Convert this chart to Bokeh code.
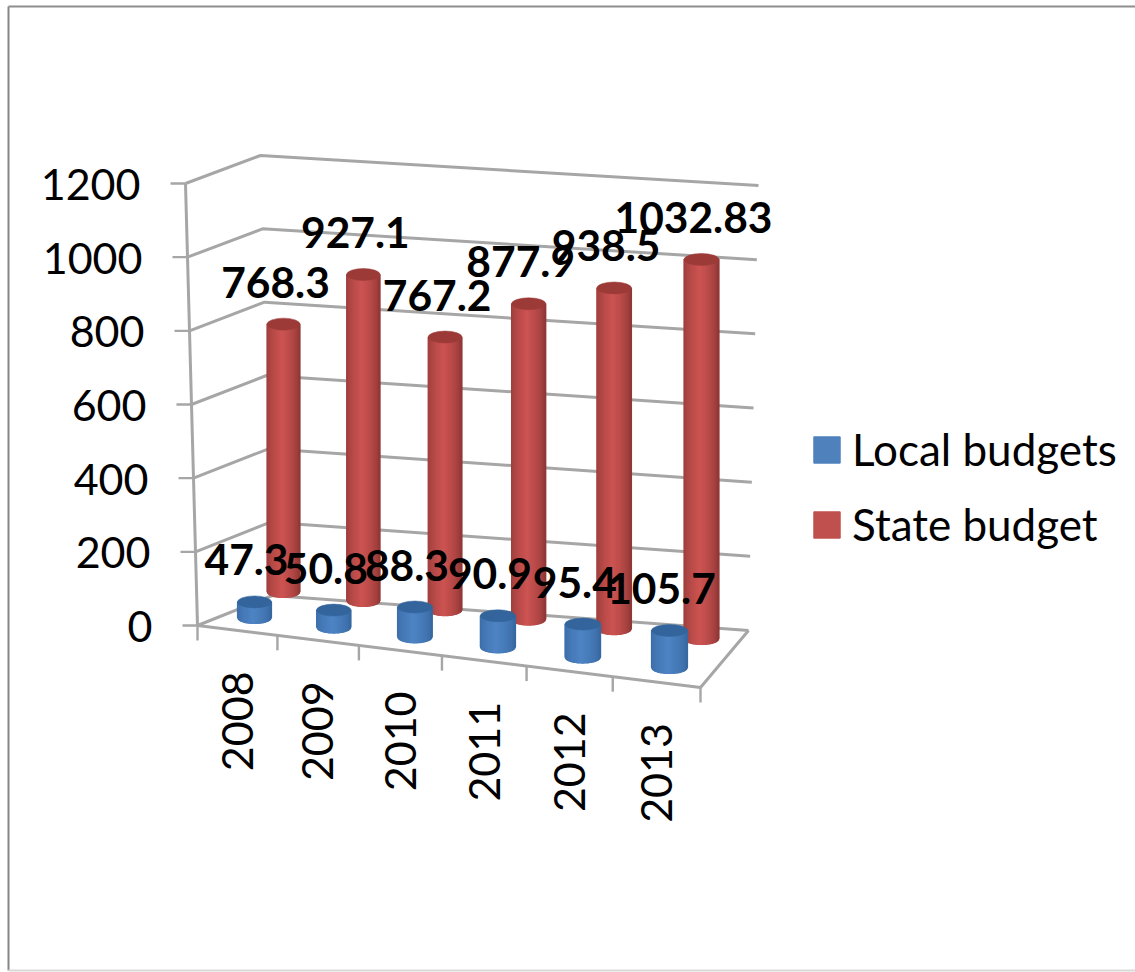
import math
from bokeh.core.properties import value
from bokeh.embed import file_html
from bokeh.models import ColumnDataSource, Legend, LegendItem, Range1d
from bokeh.plotting import figure
from bokeh.resources import INLINE

# Chart data
years = ["2008", "2009", "2010", "2011", "2012", "2013"]
local_budgets = [47.3, 50.8, 88.3, 90.9, 95.4, 105.7]
state_budget = [768.3, 927.1, 767.2, 877.9, 938.5, 1032.83]
axis_ticks = [0, 200, 400, 600, 800, 1000, 1200]
axis_max = 1200

FONT = "Lato"
GRID = "#a6a6a6"

# Corners of the 3D box, in page pixels
FL, FR, BR, BL = (197, 625), (700, 687), (748, 630), (272, 595)
FL_TOP, BL_TOP, BR_TOP = (185, 183), (260, 155), (758, 185)

p = figure(width=1135, height=972, output_backend="svg", toolbar_location=None,
           x_range=Range1d(0, 1135), y_range=Range1d(972, 0),
           x_axis_location=None, y_axis_location=None, min_border=0)
p.grid.visible = False
p.outline_line_color = None
p.background_fill_color = "white"
p.border_fill_color = "white"


def lerp(a, b, t):
    return a + (b - a) * t


def warp(u, w=0.056):
    """Foreshortening along the horizontal axis of the box."""
    return u * (1 - w * (1 - u))


def level_point(bottom, top, v):
    t = v / axis_max
    return lerp(bottom[0], top[0], t), lerp(bottom[1], top[1], t)


# Outer frame of the chart area
p.line([8, 8], [6, 970], line_color="#868686", line_width=2)
p.line([8, 1135], [6, 6], line_color="#8e8e8e", line_width=2)
p.line([8, 1135], [970, 970], line_color="#d9d9d9", line_width=2)

# Walls: one bent gridline per tick, front of the left wall to the back right
wall_x, wall_y = [], []
tick_x, tick_y = [], []
for v in axis_ticks:
    a = level_point(FL, FL_TOP, v)
    b = level_point(BL, BL_TOP, v)
    c = level_point(BR, BR_TOP, v)
    wall_x.append([a[0], b[0], c[0]])
    wall_y.append([a[1], b[1], c[1]])
    tick_x.append([a[0] - 15, a[0]])
    tick_y.append([a[1], a[1]])
p.multi_line(wall_x, wall_y, line_color=GRID, line_width=3)
p.multi_line(tick_x, tick_y, line_color=GRID, line_width=2.4)
p.line([FL[0], FL_TOP[0]], [FL[1], FL_TOP[1]], line_color=GRID, line_width=3)

# Floor outline and category ticks along the front edge
p.line([FL[0], FR[0], BR[0]], [FL[1], FR[1], BR[1]], line_color=GRID, line_width=3)
cat_x, cat_y = [], []
for i in range(len(years) + 1):
    u = warp(i / len(years))
    x, y = lerp(FL[0], FR[0], u), lerp(FL[1], FR[1], u)
    cat_x.append([x, x])
    cat_y.append([y, y + 15])
p.multi_line(cat_x, cat_y, line_color=GRID, line_width=2.4)


def shade(base_dark, base_light, f):
    """Horizontal cylinder shading: dark rims, bright just left of the middle."""
    k = max(0.0, 1 - abs(f - 0.47) / 0.53) ** 0.55
    rgb = [round(lerp(d, l, k)) for d, l in zip(base_dark, base_light)]
    return "#%02x%02x%02x" % tuple(rgb)


def draw_row(values, start, end, scale, radius, dark, light, cap):
    xs, ys, cols = [], [], []
    caps = {"x": [], "y": [], "w": []}
    tops = []
    strips = 34
    half_h = 6
    for i, val in enumerate(values):
        u = warp(i / (len(values) - 1))
        cx = lerp(start[0], end[0], u)
        base_y = lerp(start[1], end[1], u)
        top_y = base_y - val * lerp(scale[0], scale[1], u)
        a = lerp(radius[0], radius[1], u)
        for s in range(strips):
            x0 = cx - a + 2 * a * s / strips
            x1 = cx - a + 2 * a * (s + 1) / strips
            d0 = half_h * math.sqrt(max(0, 1 - ((x0 - cx) / a) ** 2))
            d1 = half_h * math.sqrt(max(0, 1 - ((x1 - cx) / a) ** 2))
            xs.append([x0, x1, x1, x0])
            ys.append([top_y, top_y, base_y + d1, base_y + d0])
            cols.append(shade(dark, light, (s + 0.5) / strips))
        caps["x"].append(cx)
        caps["y"].append(top_y)
        caps["w"].append(2 * a)
        tops.append((cx, top_y))
    p.patches(xs, ys, fill_color=cols, line_color=cols, line_width=1.2)
    caps["h"] = [2 * half_h] * len(values)
    p.ellipse("x", "y", width="w", height="h", source=ColumnDataSource(caps),
              fill_color=cap, line_color=cap, line_width=0.5)
    return tops


red_tops = draw_row(state_budget, (283, 591), (701, 638), (0.348, 0.367), (16.5, 17.5),
                    (136, 52, 50), (204, 84, 82), "#9c3a38")
blue_tops = draw_row(local_budgets, (254, 617), (669, 667), (0.33, 0.35), (17, 18),
                     (52, 100, 156), (78, 132, 196), "#33659c")

# Value labels above each column
for tops, values in ((red_tops, state_budget), (blue_tops, local_budgets)):
    p.text([t[0] for t in tops], [t[1] for t in tops], text=[str(v) for v in values],
           x_offset=-8, y_offset=-42, text_align="center", text_baseline="middle",
           text_font=value(FONT), text_font_style="bold", text_font_size="42.5px",
           text_color="black")

# Value axis labels follow the slant of the front edge
label_pts = [level_point(FL, FL_TOP, v) for v in axis_ticks]
p.text([q[0] - 45 for q in label_pts], [q[1] + 1 for q in label_pts], text=[str(v) for v in axis_ticks],
       text_align="right", text_baseline="middle", text_font=value(FONT),
       text_font_size="43px", text_color="black")

# Rotated year labels under the front edge
yr_x, yr_y = [], []
for i in range(len(years)):
    u = warp((i + 0.5) / len(years))
    yr_x.append(lerp(FL[0], FR[0], u))
    yr_y.append(lerp(FL[1], FR[1], u) + 41)
p.text(yr_x, yr_y, text=years, angle=math.pi / 2, text_align="right", text_baseline="middle",
       text_font=value(FONT), text_font_size="43px", text_color="black")

# Legend; its swatch renderers sit outside the visible range
swatch_local = p.quad(left=[-50], right=[-40], top=[-50], bottom=[-40], fill_color="#4f81bd", line_color="#4f81bd")
swatch_state = p.quad(left=[-50], right=[-40], top=[-50], bottom=[-40], fill_color="#c0504d", line_color="#c0504d")
legend = Legend(items=[LegendItem(label="Local budgets", renderers=[swatch_local]),
                       LegendItem(label="State budget", renderers=[swatch_state])],
                location=(810, 422), orientation="vertical", border_line_color=None,
                background_fill_alpha=0, glyph_width=33, glyph_height=33, label_height=47,
                spacing=23, padding=0, margin=0, label_standoff=9,
                label_text_font=FONT, label_text_font_size="44px", label_text_color="black")
p.add_layout(legend, "center")

open("out.html", "w").write(file_html(p, INLINE))
